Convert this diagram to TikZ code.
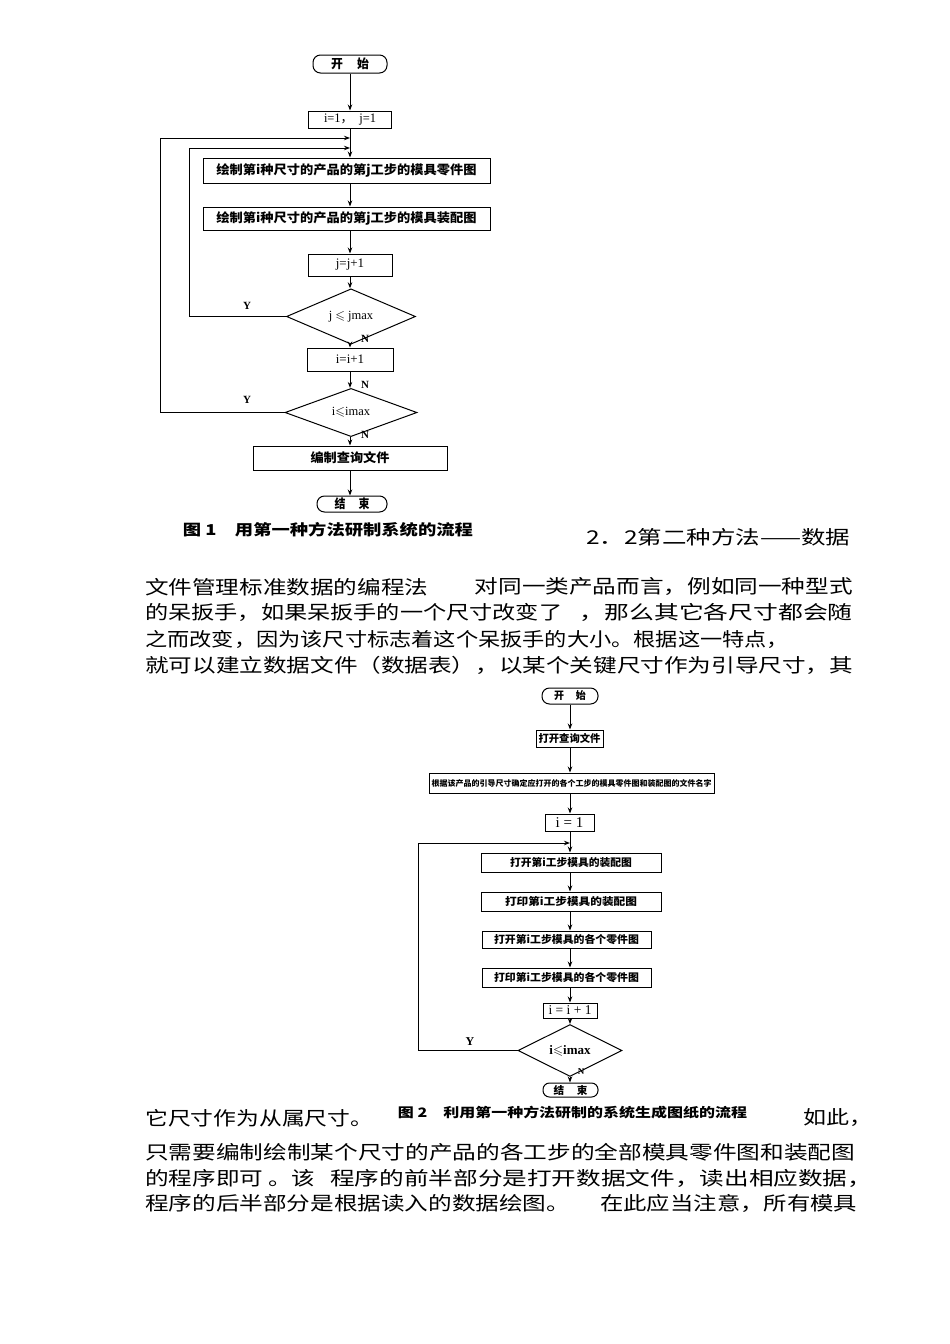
\documentclass[tikz,border=0pt]{standalone}
\usepackage{fontspec}
\usepackage{amssymb}
\usepackage{graphicx}
\setmainfont{Liberation Serif}
\newfontfamily\cjk{Noto Sans CJK SC}
\usetikzlibrary{shapes.geometric,arrows.meta}
\newcommand\fw[2]{\resizebox{#1pt}{\height}{#2}}
\newcommand\bodyf{\cjk\fontsize{19}{19}\selectfont}
\tikzset{
  box/.style={draw, line width=1pt, inner sep=0pt, rectangle},
  term/.style={draw, line width=1pt, inner sep=0pt, rectangle, rounded corners=7.5pt},
  dia/.style={draw, line width=1pt, inner sep=0pt, diamond},
  arr/.style={-{Stealth[length=6pt,width=4.5pt]}, line width=1pt},
  ln/.style={line width=1pt},
  yn/.style={inner sep=0pt, font=\fontsize{11}{11}\selectfont\bfseries},
  body/.style={anchor=west, inner sep=0pt, font=\bodyf},
  bodye/.style={anchor=east, inner sep=0pt, font=\bodyf},
  capt/.style={inner sep=0pt, font=\cjk\bfseries\fontsize{15}{15}\selectfont},
  cjkb/.style={font=\cjk\bfseries\fontsize{12.5}{12.5}\selectfont},
  cjks/.style={font=\cjk\bfseries\fontsize{10.5}{10.5}\selectfont},
  ser/.style={font=\fontsize{13}{13}\selectfont}
}
\begin{document}
\begin{tikzpicture}[x=1pt,y=-1pt]
\useasboundingbox (0,0) rectangle (950,1344);
\fill[white] (0,0) rectangle (950,1344);

% ---------- Flowchart 1 ----------
\node[term, minimum width=74pt, minimum height=18pt, cjkb] (s1) at (350,64) {\fw{38}{开\hspace{1.2em}始}};
\node[box, minimum width=83pt, minimum height=17pt, ser] (init) at (350,119.5) {\fw{52}{i=1{\cjk ，}\hspace{.5em}j=1}};
\node[box, minimum width=287pt, minimum height=25pt, cjkb] (b1) at (346.5,170.5) {\fw{260}{绘制第i种尺寸的产品的第j工步的模具零件图}};
\node[box, minimum width=287pt, minimum height=23pt, cjkb] (b2) at (346.5,218.5) {\fw{260}{绘制第i种尺寸的产品的第j工步的模具装配图}};
\node[box, minimum width=84pt, minimum height=22pt, ser] (jinc) at (350,265) {j=j+1};
\node[dia, minimum width=129pt, minimum height=27pt, font=\fontsize{12.5}{12.5}\selectfont] (d1) at (351,316.5) {j $\leqslant$ jmax};
\node[box, minimum width=86pt, minimum height=23pt, ser] (iinc) at (350,359.5) {i=i+1};
\node[dia, minimum width=132pt, minimum height=27pt, font=\fontsize{12.5}{12.5}\selectfont] (d2) at (351,412.5) {i$\leqslant$imax};
\node[box, minimum width=194pt, minimum height=24pt, cjkb] (q) at (350,458) {\fw{79}{编制查询文件}};
\node[term, minimum width=70pt, minimum height=16pt, cjkb] (e1) at (352,504) {\fw{35}{结\hspace{1.2em}束}};

\coordinate (oin) at (350,138);
\coordinate (jin) at (350,148);
\coordinate (lp2) at (160,138);
\coordinate (lp1) at (189,148);

\draw[arr] (s1) -- (init);
\draw[arr] (init.south) -- (init.south |- b1.north);
\draw[arr] (b1.south -| init.south) -- (init.south |- b2.north);
\draw[arr] (b2.south -| init.south) -- (jinc.north);
\draw[arr] (jinc.south) -- (jinc.south |- d1.north);
\draw[arr] (jinc.south |- d1.south) -- (iinc.north);
\draw[arr] (iinc.south) -- (iinc.south |- d2.north);
\draw[arr] (iinc.south |- d2.south) -- (q.north);
\draw[arr] (q.south) -- (q.south |- e1.north);
\draw[ln] (d1.west) -| (lp1);
\draw[arr] (lp1) -- (jin);
\draw[ln] (d2.west) -| (lp2);
\draw[arr] (lp2) -- (oin);

\node[yn] (y1) at (247,306) {Y};
\node[yn] (y2) at (247,400) {Y};
\node[yn] (n1) at (365,339) {N};
\node[yn] (n2) at (365,385) {N};
\node[yn] (n3) at (365,435) {N};

\node[capt] (cap1) at (328,530) {\fw{290}{图 1\hspace{1em}用第一种方法研制系统的流程}};

% ---------- Body text top ----------
\node[body] (ta) at (586,537) {\fw{264}{2．2第二种方法——数据}};
\node[body] (t1a) at (145,587) {\fw{283}{文件管理标准数据的编程法}};
\node[bodye] (t1b) at (853,587) {\fw{378}{对同一类产品而言，例如同一种型式}};
\node[body] (t2a) at (145,612) {\fw{417}{的呆扳手，如果呆扳手的一个尺寸改变了}};
\node[bodye] (t2b) at (853,612) {\fw{273}{，那么其它各尺寸都会随}};
\node[body] (t3) at (145,639) {\fw{644}{之而改变，因为该尺寸标志着这个呆扳手的大小。根据这一特点，}};
\node[body] (t4) at (145,665) {\fw{708}{就可以建立数据文件（数据表），以某个关键尺寸作为引导尺寸，其}};

% ---------- Flowchart 2 ----------
\node[term, minimum width=56pt, minimum height=16pt, cjks] (s2) at (570,696) {\fw{32}{开\hspace{1.2em}始}};
\node[box, minimum width=67pt, minimum height=17pt, cjks] (op) at (569.5,738.5) {\fw{62}{打开查询文件}};
\node[box, minimum width=285pt, minimum height=20pt, font=\cjk\bfseries\fontsize{8}{8}\selectfont] (lg) at (571.5,783) {\fw{280}{根据该产品的引导尺寸确定应打开的各个工步的模具零件图和装配图的文件名字}};
\node[box, minimum width=49pt, minimum height=17pt, font=\fontsize{15}{15}\selectfont] (i1) at (569.5,822.5) {i = 1};
\node[box, minimum width=180pt, minimum height=19pt, cjks] (c1) at (571,862.5) {\fw{122}{打开第i工步模具的装配图}};
\node[box, minimum width=180pt, minimum height=19pt, cjks] (c2) at (571,901.5) {\fw{132}{打印第i工步模具的装配图}};
\node[box, minimum width=169pt, minimum height=17pt, cjks] (c3) at (566.5,939.5) {\fw{145}{打开第i工步模具的各个零件图}};
\node[box, minimum width=169pt, minimum height=19pt, cjks] (c4) at (566.5,977.5) {\fw{145}{打印第i工步模具的各个零件图}};
\node[box, minimum width=54pt, minimum height=15pt, font=\fontsize{13.5}{13.5}\selectfont] (ii2) at (570,1010.5) {i = i + 1};
\node[dia, minimum width=104pt, minimum height=27pt, font=\fontsize{13}{13}\selectfont\bfseries] (d3) at (570,1050.5) {i$\leqslant$imax};
\node[term, minimum width=55pt, minimum height=14pt, rounded corners=6.5pt, cjks] (e2) at (570.5,1090) {\fw{34}{结\hspace{1.2em}束}};

\coordinate (jin2) at (570,843);
\coordinate (lp3) at (418,843);

\draw[arr] (s2.south -| ii2.north) -- (ii2.north |- op.north);
\draw[arr] (op.south -| ii2.north) -- (ii2.north |- lg.north);
\draw[arr] (lg.south -| ii2.north) -- (ii2.north |- i1.north);
\draw[arr] (i1.south -| ii2.north) -- (ii2.north |- c1.north);
\draw[arr] (c1.south -| ii2.north) -- (ii2.north |- c2.north);
\draw[arr] (c2.south -| ii2.north) -- (ii2.north |- c3.north);
\draw[arr] (c3.south -| ii2.north) -- (ii2.north |- c4.north);
\draw[arr] (c4.south -| ii2.north) -- (ii2.north);
\draw[arr] (ii2.south) -- (d3.north);
\draw[arr] (d3.south) -- (d3.south |- e2.north);
\draw[ln] (d3.west) -| (lp3);
\draw[arr] (lp3) -- (jin2);

\node[yn, font=\fontsize{12}{12}\selectfont\bfseries] (y3) at (470,1042) {Y};
\node[yn, font=\fontsize{9}{9}\selectfont\bfseries] (n4) at (581,1072) {N};

% ---------- Bottom text ----------
\node[body] (b1a) at (145,1118) {\fw{228}{它尺寸作为从属尺寸。}};
\node[capt, font=\cjk\bfseries\fontsize{13}{13}\selectfont] (cap2) at (572.5,1113) {\fw{349}{图 2\hspace{1em}利用第一种方法研制的系统生成图纸的流程}};
\node[body] (b1b) at (803,1118) {\fw{69}{如此，}};
\node[body] (bb2) at (145,1152) {\fw{710}{只需要编制绘制某个尺寸的产品的各工步的全部模具零件图和装配图}};
\node[body] (b3a) at (145,1178) {\fw{118}{的程序即可}};
\node[body] (b3b) at (268,1178) {\fw{47}{。该}};
\node[body] (b3c) at (330,1178) {\fw{542}{程序的前半部分是打开数据文件，读出相应数据，}};
\node[body] (b4a) at (145,1203) {\fw{425}{程序的后半部分是根据读入的数据绘图。}};
\node[body] (b4b) at (600,1203) {\fw{257}{在此应当注意，所有模具}};
\end{tikzpicture}
\end{document}
